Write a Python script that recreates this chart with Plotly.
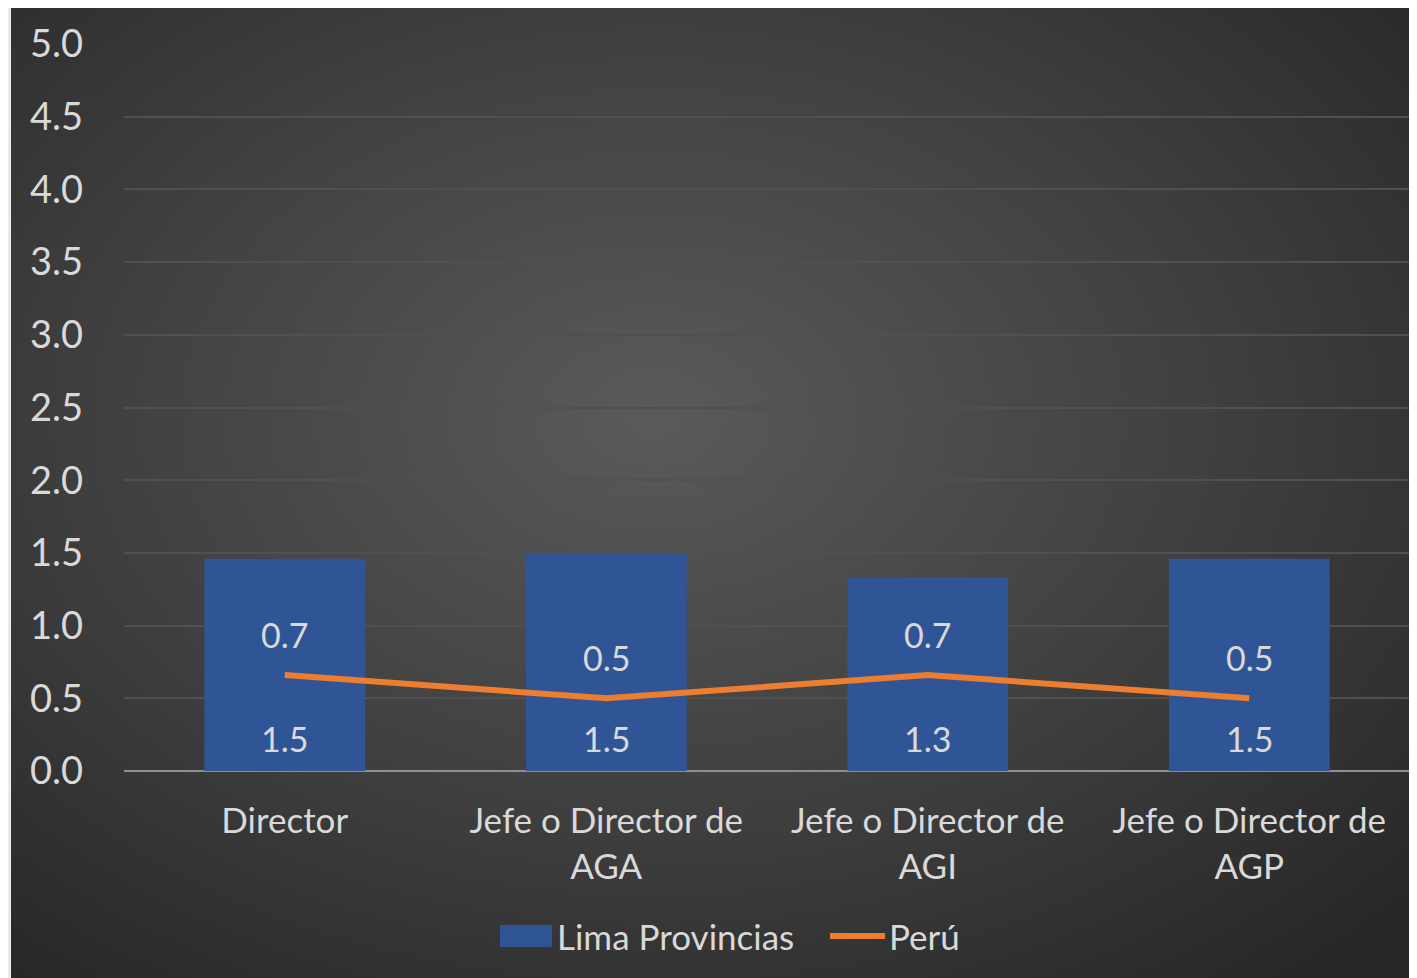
import base64
import plotly.graph_objects as go

categories = ["Director", "Jefe o Director de<br>AGA", "Jefe o Director de<br>AGI", "Jefe o Director de<br>AGP"]
lima_provincias = [1.46, 1.5, 1.33, 1.46]
peru = [0.66, 0.5, 0.66, 0.5]
y_ticks = [0, 0.5, 1.0, 1.5, 2.0, 2.5, 3.0, 3.5, 4.0, 4.5, 5.0]

FONT = "Lato"
TXT = "#d9d9d9"
BLUE = "#2f5597"
ORANGE = "#ed7d31"

# radial gradient background for the dark panel
svg = """<svg xmlns='http://www.w3.org/2000/svg' width='1406' height='975' preserveAspectRatio='none'>
<defs><radialGradient id='g' cx='0.45' cy='0.42' r='0.72'>
<stop offset='0' stop-color='#5a5a5a'/><stop offset='0.55' stop-color='#3f3f3f'/><stop offset='1' stop-color='#272727'/>
</radialGradient></defs><rect width='1406' height='975' fill='url(#g)'/></svg>"""
bg_src = "data:image/svg+xml;base64," + base64.b64encode(svg.encode()).decode()

fig = go.Figure()

fig.add_trace(go.Bar(
    x=categories, y=lima_provincias, name="Lima Provincias",
    marker=dict(color=BLUE, line=dict(width=0)), width=0.5,
    showlegend=False,
))
fig.add_trace(go.Scatter(
    x=categories, y=peru, name="Perú", mode="lines",
    line=dict(color=ORANGE, width=6), showlegend=False,
))

# data labels
for c, v in zip(categories, lima_provincias):
    fig.add_annotation(x=c, y=0, text=f"{v:.1f}", showarrow=False, yshift=33,
                       font=dict(family=FONT, size=34, color=TXT))
for c, v in zip(categories, peru):
    fig.add_annotation(x=c, y=v, text=f"{v:.1f}", showarrow=False, yshift=41,
                       font=dict(family=FONT, size=34, color=TXT))

# manual legend
leg_y = -0.227
fig.add_shape(type="rect", xref="paper", yref="paper", x0=0.2924, x1=0.3328, y0=leg_y - 0.0152, y1=leg_y + 0.0152,
              fillcolor=BLUE, line=dict(width=0))
fig.add_annotation(xref="paper", yref="paper", x=0.3352, y=leg_y, text="Lima Provincias",
                   showarrow=False, xanchor="left", yanchor="middle",
                   font=dict(family=FONT, size=35, color=TXT))
fig.add_shape(type="line", xref="paper", yref="paper", x0=0.549, x1=0.5918, y0=leg_y, y1=leg_y,
              line=dict(color=ORANGE, width=6))
fig.add_annotation(xref="paper", yref="paper", x=0.5934, y=leg_y, text="Perú",
                   showarrow=False, xanchor="left", yanchor="middle",
                   font=dict(family=FONT, size=35, color=TXT))

fig.add_layout_image(dict(
    source=bg_src, xref="paper", yref="paper",
    x=-0.0879, y=1.06, sizex=1.11, sizey=1.37,
    xanchor="left", yanchor="top", sizing="stretch", layer="below",
))

fig.update_layout(
    width=1417, height=978,
    margin=dict(l=116, r=15, t=36, b=215),
    paper_bgcolor="#e9eaed",
    plot_bgcolor="rgba(0,0,0,0)",
    font=dict(family=FONT, size=35, color=TXT),
    showlegend=False,
    xaxis=dict(showgrid=False, showline=False, ticks="", tickfont=dict(size=35, color=TXT),
               ticklabelstandoff=26),
    yaxis=dict(range=[0, 5.0], tickvals=y_ticks, tickformat=".1f",
               showgrid=True, gridcolor="#505050", gridwidth=2,
               zeroline=True, zerolinecolor="#8f8f8f", zerolinewidth=2,
               tickfont=dict(size=38, color=TXT), ticklabelstandoff=40),
)

fig.write_html("out.html")
